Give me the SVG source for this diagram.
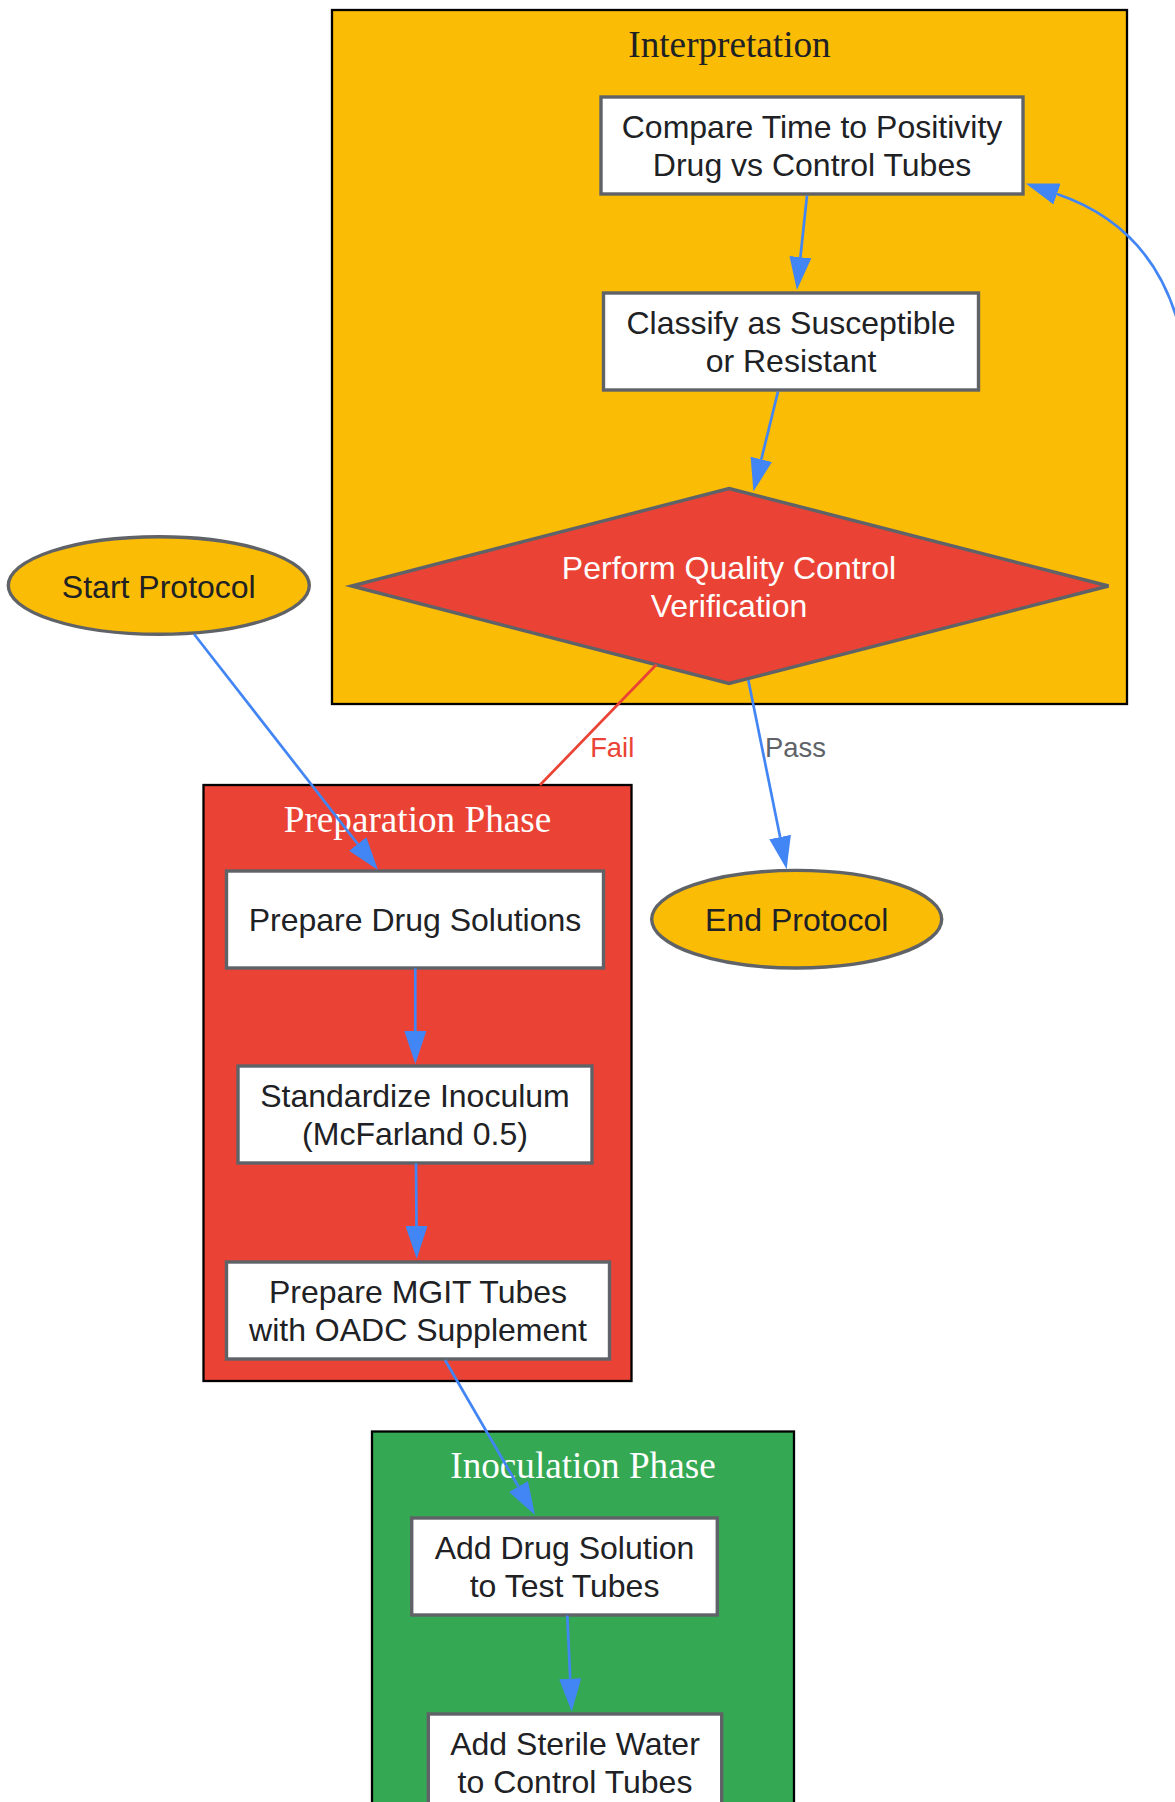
<svg xmlns="http://www.w3.org/2000/svg" width="1175" height="1802" viewBox="0 0 1175 1802">
<style>
.cl{stroke:#000;stroke-width:2.3}
.ct{font-family:"Liberation Serif","Times New Roman",serif;font-size:37.2px;text-anchor:middle}
.box{fill:#fff;stroke:#5F6368;stroke-width:3.4}
.term{fill:#FBBC05;stroke:#5F6368;stroke-width:3.4}
.dec{fill:#EA4335;stroke:#5F6368;stroke-width:3.4}
.t{font-family:"Liberation Sans",Arial,sans-serif;font-size:32px;text-anchor:middle;fill:#202124}
.tw{fill:#fff}
.e{fill:none;stroke:#4285F4;stroke-width:2.7}
.ef{fill:none;stroke:#EA4335;stroke-width:2.7}
.el{font-family:"Liberation Sans",Arial,sans-serif;font-size:27.4px;text-anchor:middle}
</style>
<defs>
<marker id="ah" viewBox="0 0 33 22" refX="0" refY="11" markerWidth="33" markerHeight="22" markerUnits="userSpaceOnUse" orient="auto">
<path d="M0,0 L33,11 L0,22 Z" fill="#4285F4"/>
</marker>
</defs>
<rect width="1175" height="1802" fill="#fff"/>
<g id="cluster-interpretation">
<rect class="cl" x="332" y="10" width="795" height="694" fill="#FBBC05"/>
<text class="ct" x="729.5" y="56.5" fill="#202124">Interpretation</text>
</g>
<g id="cluster-preparation">
<rect class="cl" x="203.5" y="785" width="428" height="596" fill="#EA4335"/>
<text class="ct" x="417.5" y="831.5" fill="#fff">Preparation Phase</text>
</g>
<g id="cluster-inoculation">
<rect class="cl" x="372" y="1431.5" width="422" height="450" fill="#34A853"/>
<text class="ct" x="583" y="1478" fill="#fff">Inoculation Phase</text>
</g>
<g id="compare">
<rect class="box" x="601" y="97" width="422" height="97"/>
<text class="t" x="812" y="138">Compare Time to Positivity</text>
<text class="t" x="812" y="175.5">Drug vs Control Tubes</text>
</g>
<g id="classify">
<rect class="box" x="603.5" y="293" width="375" height="97"/>
<text class="t" x="791" y="334">Classify as Susceptible</text>
<text class="t" x="791" y="371.5">or Resistant</text>
</g>
<g id="qc">
<polygon class="dec" points="729,488.5 1108.5,586 729,683.5 351.5,586"/>
<text class="t tw" x="729" y="578.5">Perform Quality Control</text>
<text class="t tw" x="729" y="616.5">Verification</text>
</g>
<g id="start">
<ellipse class="term" cx="158.8" cy="585.5" rx="150.5" ry="48.8"/>
<text class="t" x="158.8" y="597.5">Start Protocol</text>
</g>
<g id="end">
<ellipse class="term" cx="796.7" cy="919.2" rx="145" ry="48.8"/>
<text class="t" x="796.7" y="930.7">End Protocol</text>
</g>
<g id="prep-drug">
<rect class="box" x="226.5" y="871" width="377" height="97"/>
<text class="t" x="415" y="931">Prepare Drug Solutions</text>
</g>
<g id="standardize">
<rect class="box" x="238" y="1066" width="354" height="97"/>
<text class="t" x="415" y="1107">Standardize Inoculum</text>
<text class="t" x="415" y="1144.5">(McFarland 0.5)</text>
</g>
<g id="mgit">
<rect class="box" x="226.5" y="1262" width="383" height="97"/>
<text class="t" x="418" y="1303">Prepare MGIT Tubes</text>
<text class="t" x="418" y="1340.5">with OADC Supplement</text>
</g>
<g id="add-drug">
<rect class="box" x="411.7" y="1518" width="305.6" height="97"/>
<text class="t" x="564.5" y="1559">Add Drug Solution</text>
<text class="t" x="564.5" y="1596.5">to Test Tubes</text>
</g>
<g id="add-water">
<rect class="box" x="428.3" y="1714" width="293.4" height="97"/>
<text class="t" x="575" y="1755">Add Sterile Water</text>
<text class="t" x="575" y="1792.5">to Control Tubes</text>
</g>
<g id="connectors">
<path class="e" marker-end="url(#ah)" d="M807,195.5 L800.4,257.2"/>
<path class="e" marker-end="url(#ah)" d="M778,391.5 L761.3,459.4"/>
<path class="e" marker-end="url(#ah)" d="M194,634 L357.7,844"/>
<path class="ef" d="M656.5,664.5 L540,785"/>
<text class="el" x="612.2" y="756.7" fill="#EA4335">Fail</text>
<path class="e" marker-end="url(#ah)" d="M748.3,680 L780.1,837"/>
<text class="el" x="795.4" y="756.7" fill="#5F6368">Pass</text>
<path class="e" marker-end="url(#ah)" d="M415.3,968.5 L415.3,1031"/>
<path class="e" marker-end="url(#ah)" d="M416,1163.5 L416.5,1226"/>
<path class="e" marker-end="url(#ah)" d="M445,1360 L518.4,1486.5"/>
<path class="e" marker-end="url(#ah)" d="M567.3,1615.5 L570.2,1678.7"/>
<path class="e" marker-end="url(#ah)" d="M1180,330 C1160,250 1110,212 1057,194"/>
</g>
</svg>
